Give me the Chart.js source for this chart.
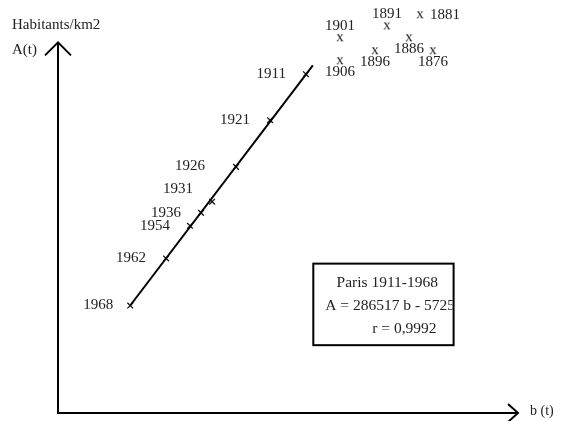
<!DOCTYPE html>
<html>
<head>
<meta charset="utf-8">
<script src="https://cdn.jsdelivr.net/npm/chart.js@4"></script>
<style>
  body { margin: 0; background: #fff; }
  canvas { display: block; }
</style>
</head>
<body>
<canvas id="chartCanvas" width="562" height="421"></canvas>
<script>
// Paris 1911-1968 : points alignés sur la droite de régression
const lineYears = ["1911", "1921", "1926", "1931", "1936", "1954", "1962", "1968"];
const lineB = [53.9, 46.1, 38.7, 33.5, 31.1, 28.7, 23.5, 15.7];
const lineA = [91.4, 79.0, 66.4, 57.0, 54.0, 50.5, 41.7, 29.0];

// années 1876-1906 : hors de la droite
const oldYears = ["1906", "1901", "1896", "1891", "1886", "1881", "1876"];
const oldB = [61.3, 61.3, 68.9, 71.5, 76.3, 78.7, 81.5];
const oldA = [94.9, 101.1, 97.6, 104.3, 101.1, 107.3, 97.6];

// droite A = 286517 b - 5725
const fitB = [15.7, 55.4];
const fitA = [29.0, 93.8];

const boxLines = ["Paris 1911-1968", "A = 286517 b - 5725", "r = 0,9992"];

// où mettre l'étiquette de chaque année
const placement = {
  "1906": "below", "1901": "above", "1896": "below", "1891": "above",
  "1886": "below", "1881": "right", "1876": "below"
};
const decalage = { "1926": [-31, -1], "1931": [-19, -13], "1968": [-17, 0] };

const serif = '"Liberation Serif", "Times New Roman", serif';
const ink = "#222";
const yHaut = 100; // bout de la flèche verticale

function marqueX() {
  const c = document.createElement("canvas");
  c.width = 12;
  c.height = 12;
  const g = c.getContext("2d");
  g.fillStyle = ink;
  g.font = "15px " + serif;
  g.textAlign = "center";
  g.textBaseline = "middle";
  g.fillText("x", 6, 5);
  return c;
}

const axesEtTextes = {
  id: "axesEtTextes",
  afterDatasetsDraw(chart) {
    const ctx = chart.ctx;
    const a = chart.chartArea;
    const sx = chart.scales.x;
    const sy = chart.scales.y;
    const top = sy.getPixelForValue(yHaut);
    ctx.save();

    // axes avec flèches
    ctx.strokeStyle = "#000";
    ctx.lineWidth = 2;
    ctx.beginPath();
    ctx.moveTo(a.left, top);
    ctx.lineTo(a.left, a.bottom);
    ctx.lineTo(a.right, a.bottom);
    ctx.stroke();
    ctx.beginPath();
    ctx.moveTo(a.left - 13, top + 13);
    ctx.lineTo(a.left, top);
    ctx.lineTo(a.left + 13, top + 13);
    ctx.moveTo(a.right - 10, a.bottom - 9);
    ctx.lineTo(a.right, a.bottom);
    ctx.lineTo(a.right - 10, a.bottom + 9);
    ctx.stroke();

    ctx.fillStyle = ink;
    ctx.textBaseline = "middle";
    ctx.font = "15px " + serif;
    ctx.textAlign = "left";
    ctx.fillText("Habitants/km2", 12, 25);
    ctx.fillText("A(t)", 12, 50);
    ctx.font = "14px " + serif;
    ctx.fillText("b (t)", a.right + 12, a.bottom - 2);

    // étiquettes des années
    ctx.font = "15px " + serif;
    ctx.textAlign = "right";
    lineYears.forEach((y, i) => {
      const px = sx.getPixelForValue(lineB[i]);
      const py = sy.getPixelForValue(lineA[i]);
      const d = decalage[y] || [-20, 0];
      ctx.fillText(y, px + d[0], py + d[1]);
    });
    oldYears.forEach((y, i) => {
      const px = sx.getPixelForValue(oldB[i]);
      const py = sy.getPixelForValue(oldA[i]);
      const p = placement[y];
      if (p === "right") {
        ctx.textAlign = "left";
        ctx.fillText(y, px + 10, py);
      } else {
        ctx.textAlign = "center";
        ctx.fillText(y, px, p === "above" ? py - 12 : py + 11);
      }
    });

    // cadre
    const bx0 = sx.getPixelForValue(55.5);
    const bx1 = sx.getPixelForValue(86);
    const by0 = sy.getPixelForValue(40.3);
    const by1 = sy.getPixelForValue(18.3);
    ctx.strokeStyle = "#000";
    ctx.lineWidth = 2;
    ctx.strokeRect(bx0, by0, bx1 - bx0, by1 - by0);
    ctx.beginPath();
    ctx.rect(bx0, by0, bx1 - bx0 - 1, by1 - by0);
    ctx.clip();
    ctx.font = "15.5px " + serif;
    ctx.textAlign = "center";
    ctx.fillText(boxLines[0], bx0 + 74, by0 + 19);
    ctx.textAlign = "left";
    ctx.fillText(boxLines[1], bx0 + 12, by0 + 42);
    ctx.fillText(boxLines[2], bx0 + 59, by0 + 65);
    ctx.restore();
  }
};

function inicializarGrafica() {
  const ctx = document.getElementById("chartCanvas").getContext("2d");
  new Chart(ctx, {
    type: "scatter",
    data: {
      datasets: [
        {
          type: "line",
          label: "droite",
          data: fitB.map((b, i) => ({ x: b, y: fitA[i] })),
          borderColor: "#000",
          borderWidth: 2,
          pointRadius: 0,
          fill: false
        },
        {
          label: "1911-1968",
          data: lineB.map((b, i) => ({ x: b, y: lineA[i] })),
          pointStyle: "crossRot",
          pointRadius: 4,
          borderColor: "#111",
          borderWidth: 1.3
        },
        {
          label: "1876-1906",
          data: oldB.map((b, i) => ({ x: b, y: oldA[i] })),
          pointStyle: marqueX()
        }
      ]
    },
    options: {
      responsive: false,
      animation: false,
      // y = 100 tombe à 41 px, y = 0 à 413 px
      layout: { padding: { left: 58, right: 44, top: 3.8, bottom: 8 } },
      plugins: { legend: { display: false }, tooltip: { enabled: false } },
      scales: {
        x: { type: "linear", display: false, min: 0, max: 100 },
        y: { type: "linear", display: false, min: 0, max: 110 }
      }
    },
    plugins: [axesEtTextes]
  });
}

window.addEventListener("DOMContentLoaded", inicializarGrafica);
</script>
</body>
</html>
